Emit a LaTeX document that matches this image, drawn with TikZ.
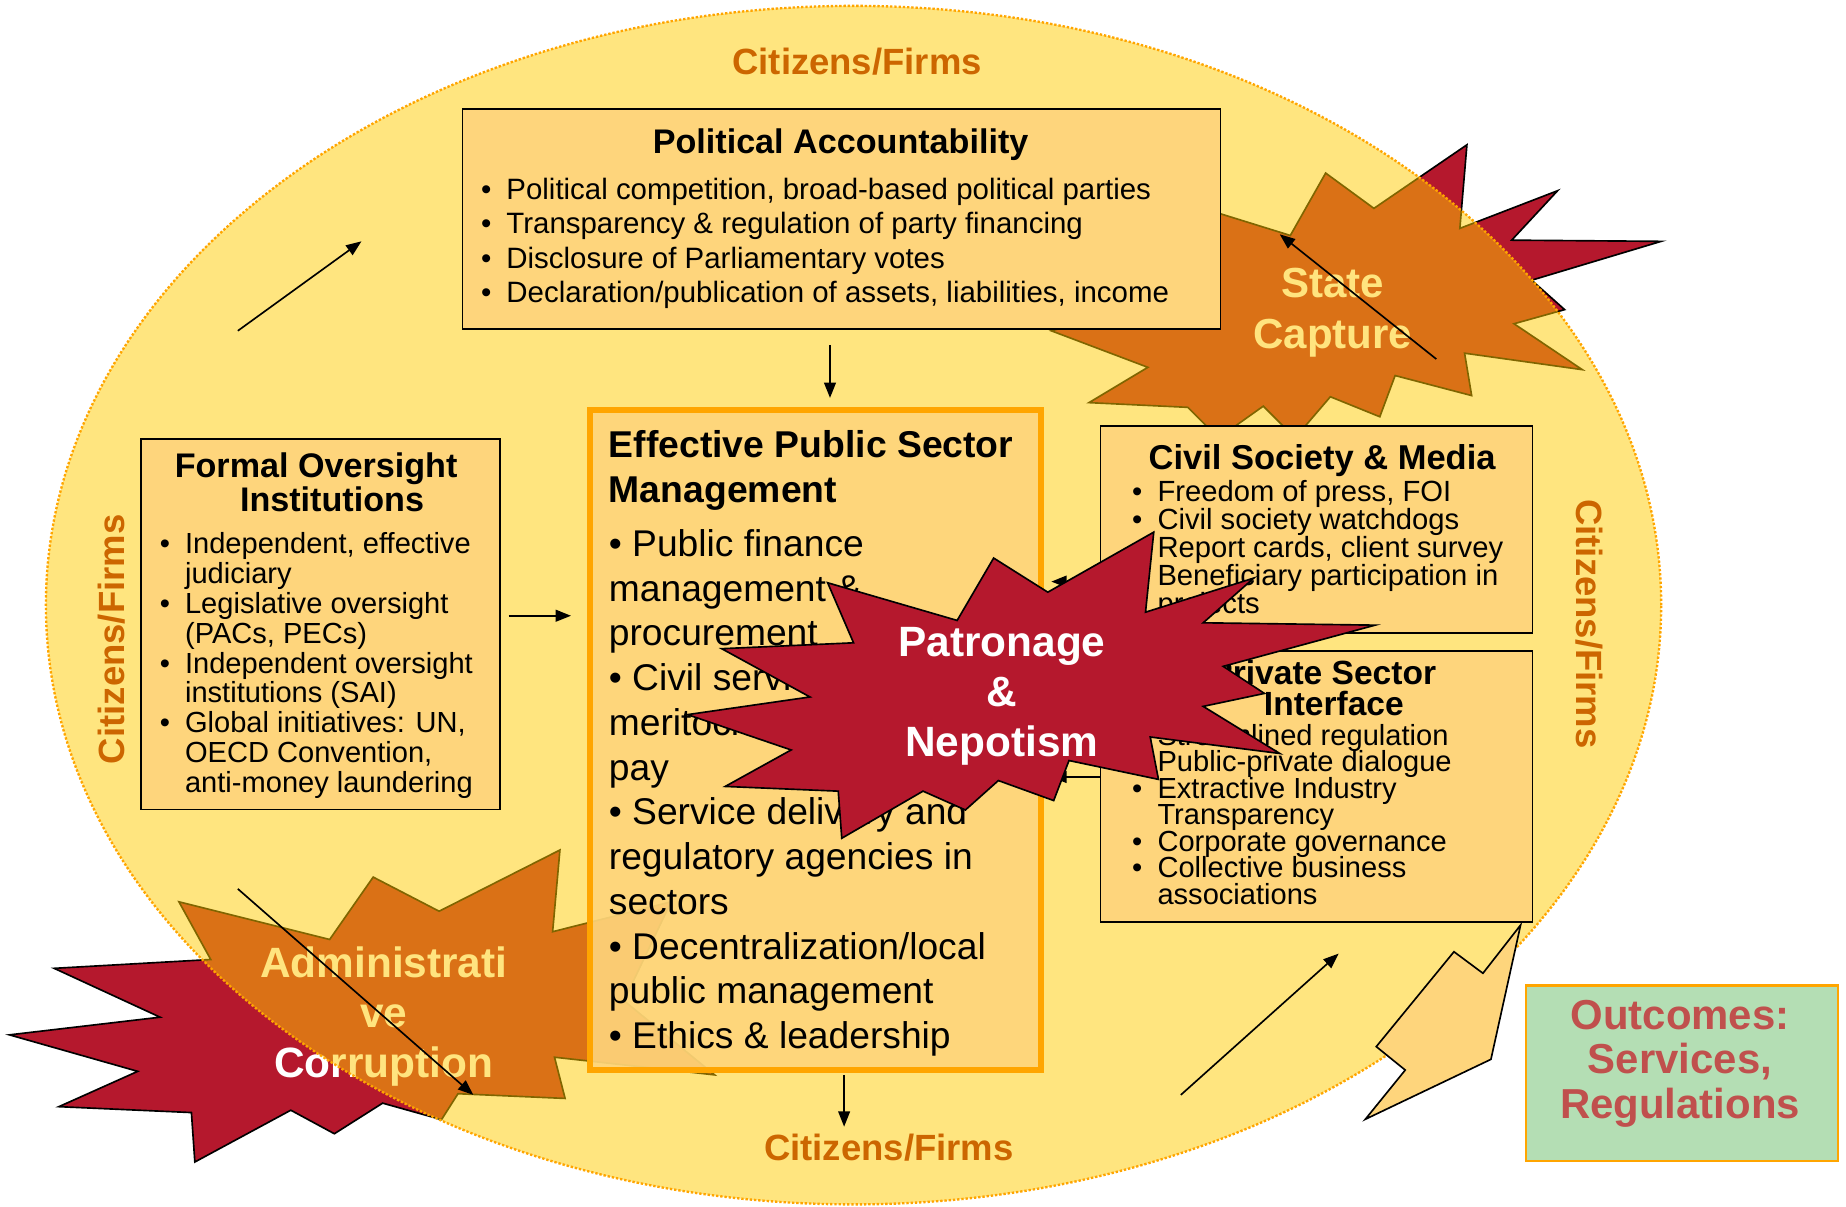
\documentclass[tikz,border=0pt]{standalone}
\usepackage{fontspec}
\setmainfont{Liberation Sans}
\usetikzlibrary{arrows.meta,positioning}

\definecolor{peach}{RGB}{254,213,124}
\definecolor{ringfill}{RGB}{255,203,0}
\definecolor{ringdots}{RGB}{255,165,0}
\definecolor{boxorange}{RGB}{255,165,0}
\definecolor{citorange}{RGB}{204,102,0}
\definecolor{burstred}{RGB}{181,24,45}
\definecolor{outgreen}{RGB}{180,222,180}
\definecolor{outred}{RGB}{192,80,77}

\newlength\bulw
\setlength\bulw{21.5pt}
\newcommand{\bulitem}{\makebox[\bulw][l]{\textbullet}}
\newcommand{\bulcont}{\hspace*{\bulw}}
\newcommand{\govfont}[2]{\fontsize{#1}{#2}\selectfont\lineskiplimit=-40pt\relax}

\tikzset{
	gov diagram/.style={
		x=1pt, y=-1pt,
		>={Triangle[length=13pt,width=10pt]},
		ar/.style={->, line width=1.4pt},
		gov box/.style={draw, line width=1.4pt, fill=peach, inner sep=0pt, anchor=north west},
		main box/.style={gov box, draw=boxorange, line width=5pt, fill opacity=.9},
		box title/.style={inner sep=0pt, align=center},
		box list/.style={inner sep=0pt, align=left, anchor=north west},
		burst/.style={fill=burstred, draw=black, line width=1.4pt},
		burst text/.style={inner sep=0pt, align=center, anchor=north, text=white},
		cit label/.style={inner sep=0pt, text=citorange, font=\bfseries\govfont{31}{31}},
		ring line/.style={draw=ringdots, line width=2pt, dash pattern=on 2pt off 1.6pt}
	}
}

\begin{document}
\begin{tikzpicture}[gov diagram]
\useasboundingbox (0,0) rectangle (1568,1025);

% bursts lying under the ring
\draw[burst] (1126,147) -- (1167,177) -- (1246,123) -- (1240,194) -- (1323,162) -- (1284,204)
	-- (1411,205) -- (1301,238) -- (1329,263) -- (1286,275) -- (1344,314) -- (1244,300)
	-- (1250,336) -- (1185,319) -- (1172,354) -- (1130,337) -- (1100,372) -- (1073,345)
	-- (1035,372) -- (1009,346) -- (925,342) -- (975,312) -- (893,281) -- (990,255)
	-- (980,164) -- (1096,200) -- cycle;
\node[burst text, font=\bfseries\govfont{35.7}{43}] (capture) at (1132,227.8) {State\\Capture};

\draw[burst] (475.6,722) -- (469.4,791.4) -- (570,766) -- (530,850) -- (607,913) -- (471,898)
	-- (480,933) -- (389,929) -- (375,951) -- (325,937) -- (284,963) -- (247,943)
	-- (165.5,987) -- (162.6,945) -- (50,940) -- (117,910) -- (8,879) -- (136,864)
	-- (46,822.5) -- (179,815) -- (152,766) -- (280,798) -- (317,745) -- (373,774) -- cycle;
\node[burst text, font=\bfseries\govfont{36}{42.5}] (admin) at (326,803.6) {Administrati\\ve\\Corruption};

% the ring
\coordinate (ring) at (725,514);
\fill[ringfill, fill opacity=.5] (ring) ellipse [x radius=686pt, y radius=509pt];
\draw[ring line] (ring) ellipse [x radius=686pt, y radius=509pt];

\node[cit label] (citN) at (728,52) {Citizens/Firms};
\node[cit label] (citS) at (755,975) {Citizens/Firms};
\node[cit label, rotate=90] (citW) at (95,543) {Citizens/Firms};
\node[cit label, rotate=-90] (citE) at (1350,530) {Citizens/Firms};

% boxes
\node[gov box, minimum width=644pt, minimum height=187pt] (pa) at (392,92) {};
\node[gov box, minimum width=305pt, minimum height=315pt] (foi) at (119,372) {};
\node[main box, minimum width=383pt, minimum height=560pt] (epsm) at (499,346) {};
\node[gov box, minimum width=367pt, minimum height=176pt] (csm) at (934,361) {};
\node[gov box, minimum width=367pt, minimum height=230pt, below=14pt of csm] (psi) {};

\node[box title, font=\bfseries\govfont{29}{29}, anchor=base] (patitle) at (714,130.4) {Political Accountability};
\node[box list, font=\govfont{25}{29.3}] (palist) at (408.5,151) {%
	\bulitem Political competition, broad-based political parties\\
	\bulitem Transparency \& regulation of party financing\\
	\bulitem Disclosure of Parliamentary votes\\
	\bulitem Declaration/publication of assets, liabilities, income};

\node[box title, font=\bfseries\govfont{29}{29}, anchor=north] (foititle) at (272,384.5)
	{Formal Oversight\hspace*{7pt}\mbox{}\\\hspace*{20pt}Institutions};
\node[box list, font=\govfont{24.7}{25.4}] (foilist) at (135.5,452) {%
	\bulitem Independent, effective\\
	\bulcont judiciary\\
	\bulitem Legislative oversight\\
	\bulcont (PACs, PECs)\\
	\bulitem Independent oversight\\
	\bulcont institutions (SAI)\\
	\bulitem Global initiatives: UN,\\
	\bulcont OECD Convention,\\
	\bulcont anti-money laundering};

\node[box list, font=\bfseries\govfont{31.7}{38}] (epsmtitle) at (517,365.5) {Effective Public Sector\\Management};
\node[box list, font=\govfont{31.6}{38}] (epsmlist) at (517,449.5) {%
	\textbullet{} Public finance\\
	management \&\\
	procurement\\
	\textbullet{} Civil service:\\
	meritocracy,\\
	pay\\
	\textbullet{} Service delivery and\\
	regulatory agencies in\\
	sectors\\
	\textbullet{} Decentralization/local\\
	public management\\
	\textbullet{} Ethics \& leadership};

\node[box title, font=\bfseries\govfont{29.3}{29.3}, anchor=base] (csmtitle) at (1123,398.5) {Civil Society \& Media};
\node[box list, font=\govfont{24.8}{23.7}] (csmlist) at (961.5,408) {%
	\bulitem Freedom of press, FOI\\
	\bulitem Civil society watchdogs\\
	\bulitem Report cards, client survey\\
	\bulitem Beneficiary participation in\\
	\bulcont projects};

\node[box title, font=\bfseries\govfont{28.5}{26.5}, anchor=north] (psititle) at (1128,560.5)
	{Private Sector\hspace*{8pt}\mbox{}\\\hspace*{10pt}Interface};
\node[box list, font=\govfont{24.7}{22.5}] (psilist) at (961.5,615) {%
	\bulitem Streamlined regulation\\
	\bulitem Public-private dialogue\\
	\bulitem Extractive Industry\\
	\bulcont Transparency\\
	\bulitem Corporate governance\\
	\bulitem Collective business\\
	\bulcont associations};

% arrows
\coordinate (tlA) at (202,281);   \coordinate (tlB) at (307,205);
\coordinate (paA) at (705,293);   \coordinate (paB) at (705,338);
\coordinate (foiA) at (432,523);  \coordinate (foiB) at (485,523);
\coordinate (epsmA) at (717,913); \coordinate (epsmB) at (717,957);
\coordinate (blA) at (202,755);   \coordinate (blB) at (402,930);
\coordinate (brA) at (1003,930);  \coordinate (brB) at (1137,810);
\coordinate (scA) at (1220,305);  \coordinate (scB) at (1087,199);
\coordinate (csmA) at (934,494);  \coordinate (csmB) at (893,494);
\coordinate (psiA) at (934,660);  \coordinate (psiB) at (893,660);
\foreach \a/\b in {tlA/tlB, paA/paB, foiA/foiB, epsmA/epsmB, blA/blB, brA/brB, scA/scB, csmA/csmB, psiA/psiB}
	\draw[ar] (\a) -- (\b);

% patronage burst on top
\draw[burst] (703,495) -- (813,527) -- (844,474) -- (890,503) -- (980,452) -- (973,520)
	-- (1065,491) -- (1022,529) -- (1168,531) -- (1039,566) -- (1074,589) -- (1022,600)
	-- (1087,640) -- (977,626) -- (984,662) -- (908,646) -- (895,680) -- (848,663)
	-- (820,688) -- (784,672) -- (715,712) -- (712,672) -- (616,668) -- (672,637)
	-- (584,607) -- (688,592) -- (613,551) -- (725,546) -- cycle;
\node[burst text, font=\bfseries\govfont{36}{42.5}] (patronage) at (851,532.6) {Patronage\\\&\\Nepotism};

% outcomes
\draw[draw=black, line width=1.4pt, fill=peach] (1291.6,785.7) -- (1259.6,826.7) -- (1235,808.4)
	-- (1169,889) -- (1193.6,908.9) -- (1159.7,950.7) -- (1266.4,899.8) -- cycle;
\node[gov box, draw=boxorange, line width=2pt, fill=outgreen, minimum width=265pt, minimum height=149pt] (outc) at (1295,836) {};
\node[box title, text=outred, font=\bfseries\govfont{35.6}{38}, anchor=north] (outtext) at (1427,849) {Outcomes:\\Services,\\Regulations};

\end{tikzpicture}
\end{document}
